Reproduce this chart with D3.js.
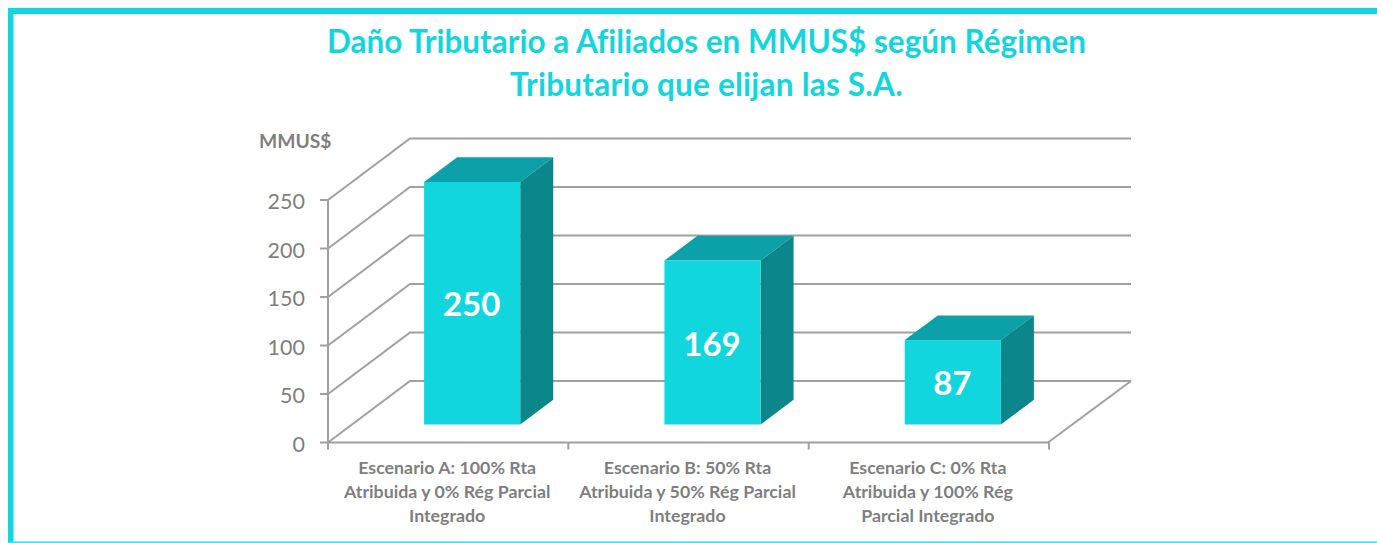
<!DOCTYPE html>
<html lang="es">
<head>
<meta charset="utf-8">
<title>Daño Tributario</title>
<script src="https://d3js.org/d3.v7.min.js"></script>
<style>
    html, body { margin: 0; padding: 0; background: #fff; overflow: hidden; }
    svg { display: block; }
    text { font-family: Lato, "Open Sans", sans-serif; font-variant-ligatures: none; }
    .title { font-size: 31.5px; font-weight: 700; fill: #12d6de; text-anchor: middle; }
    .unit { font-size: 19.3px; font-weight: 700; fill: #7f7f7f; }
    .tick-label { font-size: 21.5px; fill: #7f7f7f; text-anchor: end; }
    .cat-label { font-size: 17.8px; font-weight: 700; fill: #7f7f7f; text-anchor: middle; }
    .value-label { font-size: 33px; font-weight: 700; fill: #fff; text-anchor: middle; }
    .grid { stroke: #a0a0a0; stroke-width: 2; fill: none; }
</style>
</head>
<body>
<div id="container"></div>
<script>
var categories = ["A", "B", "C"];
var values = [250, 169, 87];
var yTicks = [0, 50, 100, 150, 200, 250];
var titleLines = ["Daño Tributario a Afiliados en MMUS$ según Régimen", "Tributario que elijan las S.A."];
var catLabels = [
    ["Escenario A: 100% Rta", "Atribuida y 0% Rég Parcial", "Integrado"],
    ["Escenario B: 50% Rta", "Atribuida y 50% Rég Parcial", "Integrado"],
    ["Escenario C: 0% Rta", "Atribuida y 100% Rég", "Parcial Integrado"]
];

var w = 1377, h = 543;
var svg = d3.select("#container").append("svg").attr("width", w).attr("height", h);

// frame: no right side in the original
svg.append("rect").attr("x", 8).attr("y", 8).attr("width", w - 8).attr("height", 6).attr("fill", "#12d6de");
svg.append("rect").attr("x", 8).attr("y", 8).attr("width", 5.5).attr("height", h - 8).attr("fill", "#12d6de");
svg.append("rect").attr("x", 8).attr("y", 541.5).attr("width", w - 8).attr("height", 1.5).attr("fill", "#35dfe5");

svg.selectAll(".title").data(titleLines).enter().append("text")
    .attr("class", "title")
    .attr("x", 706.5)
    .attr("y", function(d, i) { return 53 + i * 43; })
    .style("letter-spacing", function(d, i) { return i == 1 ? "0.23px" : null; })
    .text(function(d) { return d; });

svg.append("text").attr("class", "unit").attr("x", 259).attr("y", 148).text("MMUS$");

var x = d3.scaleBand().domain(categories).range([328, 1049]).paddingInner(0.6).paddingOuter(0.3);
var y = d3.scaleLinear().domain([0, 250]).range([442.5, 200]);

// depth of the 3d box, wall offset and bar offset
var wallDx = 82, wallDy = -61.5;
var barDx = 24, barDy = -18;
var boxDx = 33, boxDy = -24.7;

// back wall lines and the slanted side wall lines
yTicks.forEach(function(t) {
    var p = d3.path();
    p.moveTo(328, y(t));
    p.lineTo(328 + wallDx, y(t) + wallDy);
    p.lineTo(1131, y(t) + wallDy);
    svg.append("path").attr("class", "grid").attr("d", p.toString());
});
// floor
var fl = d3.path();
fl.moveTo(1048, y(0));
fl.lineTo(1131, y(0) + wallDy);
svg.append("path").attr("class", "grid").attr("d", fl.toString());

// axes
svg.append("line").attr("class", "grid").attr("x1", 328).attr("x2", 328).attr("y1", y(250)).attr("y2", y(0));
svg.append("line").attr("class", "grid").attr("x1", 328).attr("x2", 1048).attr("y1", y(0)).attr("y2", y(0));
yTicks.forEach(function(t) {
    svg.append("line").attr("class", "grid").attr("x1", 320).attr("x2", 328).attr("y1", y(t)).attr("y2", y(t));
    svg.append("text").attr("class", "tick-label").attr("x", 305).attr("y", y(t) + 9).text(t);
});
var step = x.step();
d3.range(4).forEach(function(i) {
    var tx = 328 + i * step;
    svg.append("line").attr("class", "grid").attr("x1", tx).attr("x2", tx).attr("y1", y(0)).attr("y2", y(0) + 7);
});

// bars
categories.forEach(function(c, i) {
    var x0 = x(c) + barDx, x1 = x0 + x.bandwidth();
    var yb = y(0) + barDy, yt = y(values[i]) + barDy;
    svg.append("polygon").attr("fill", "#0ca0a8")
        .attr("points", [[x0, yt], [x0 + boxDx, yt + boxDy], [x1 + boxDx, yt + boxDy], [x1, yt]].join(" "));
    svg.append("polygon").attr("fill", "#0b878b")
        .attr("points", [[x1, yt], [x1 + boxDx, yt + boxDy], [x1 + boxDx, yb + boxDy], [x1, yb]].join(" "));
    svg.append("rect").attr("fill", "#12d6de")
        .attr("x", x0).attr("y", yt).attr("width", x.bandwidth()).attr("height", yb - yt);
    svg.append("text").attr("class", "value-label")
        .attr("x", (x0 + x1) / 2 - 0.5)
        .attr("y", (yt + yb) / 2 + 13)
        .text(values[i]);
    catLabels[i].forEach(function(line, j) {
        svg.append("text").attr("class", "cat-label")
            .attr("x", x(c) + x.bandwidth() / 2 - 1)
            .attr("y", 473.5 + j * 24)
            .text(line);
    });
});
</script>
</body>
</html>
